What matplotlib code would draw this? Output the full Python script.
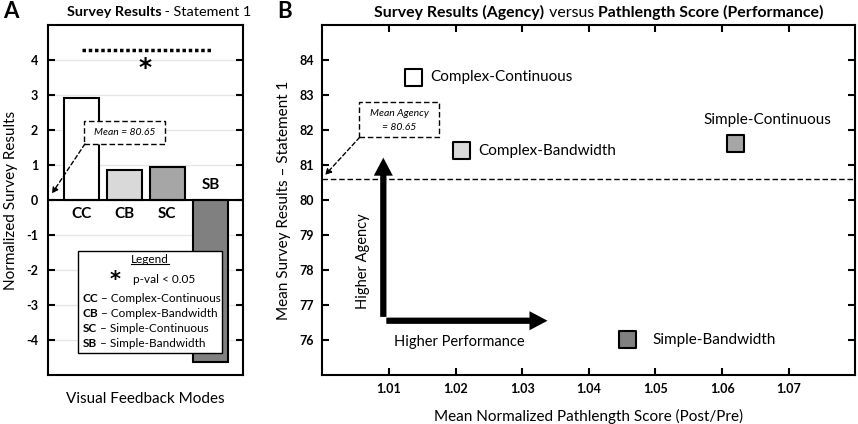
import matplotlib
matplotlib.use("Agg")
import matplotlib.pyplot as plt
from matplotlib.patches import Rectangle
from matplotlib.offsetbox import TextArea, HPacker, AnnotationBbox

plt.rcParams['font.family'] = ['Lato', 'DejaVu Sans']

# panel A data
modes = ['CC', 'CB', 'SC', 'SB']
mode_names = ['Complex-Continuous', 'Complex-Bandwidth', 'Simple-Continuous', 'Simple-Bandwidth']
norm_results = [2.9, 0.87, 0.94, -4.62]
mode_colors = ['#ffffff', '#d9d9d9', '#a6a6a6', '#808080']
a_yticks = [-4, -3, -2, -1, 0, 1, 2, 3, 4]

# panel B data
pathlength = [1.0137, 1.0209, 1.0620, 1.0458]
mean_agency = [83.51, 81.41, 81.62, 76.00]
agency_mean_line = 80.6
b_xticks = [1.01, 1.02, 1.03, 1.04, 1.05, 1.06, 1.07]
b_xticklabels = ['1.01', '1.02', '1.03', '1.04', '1.05', '1.06', '1.07']
b_yticks = [76, 77, 78, 79, 80, 81, 82, 83, 84]

LW = 1.5


def rich(ax, x, y, parts, size, align=(0.5, 0.5), coords='data', sep=0):
    boxes = [TextArea(t, textprops=dict(size=size, **p)) for t, p in parts]
    pack = HPacker(children=boxes, align='baseline', pad=0, sep=sep)
    ab = AnnotationBbox(pack, (x, y), xycoords=coords, box_alignment=align,
                        frameon=False, pad=0, zorder=6)
    ax.add_artist(ab)


fig = plt.figure(figsize=(8.58, 4.24), dpi=100)
axA = fig.add_axes([0.0559, 0.1156, 0.2273, 0.8255])
axB = fig.add_axes([0.3757, 0.1156, 0.6212, 0.8255])

# ---------------- panel A ----------------
x = list(range(len(modes)))
axA.bar(x, norm_results, width=0.82, color=mode_colors, edgecolor='black',
        linewidth=LW, zorder=3)
axA.set_xlim(-0.78, 3.76)
axA.set_ylim(-5, 5)
axA.set_yticks(a_yticks)
axA.set_yticklabels([str(v) for v in a_yticks], fontweight='bold', fontsize=9)
axA.set_xticks([])
for v in a_yticks:
    axA.axhline(v, color='#e6e6e6', lw=1, zorder=0)
axA.tick_params(axis='y', direction='in', length=5, width=LW, right=True, pad=7)
for s in axA.spines.values():
    s.set_linewidth(LW)
axA.axhline(0, color='black', lw=LW, zorder=4)

for i, m in enumerate(modes):
    if norm_results[i] >= 0:
        axA.text(i, -0.4, m, ha='center', va='center', fontsize=11, fontweight='bold', zorder=5)
    else:
        axA.text(i, 0.42, m, ha='center', va='center', fontsize=11, fontweight='bold', zorder=5)

# significance
axA.plot([0.01, 3.01], [4.29, 4.29], color='black', lw=2.5, ls=(0, (1, 0.8)), zorder=5)
axA.text(1.48, 3.78, '*', ha='center', va='center', fontsize=18, fontweight='bold',
         family='DejaVu Sans', zorder=5)

# mean box
axA.add_patch(Rectangle((0.057, 1.59), 1.88, 0.66, fc='white', ec='black', lw=1,
                        ls=(0, (4, 2)), zorder=5))
axA.text(1.0, 1.92, 'Mean = 80.65', ha='center', va='center', fontsize=7.5,
         style='italic', zorder=6)
axA.annotate('', xy=(-0.69, 0.18), xytext=(0.08, 1.6),
             arrowprops=dict(arrowstyle='-|>', color='black', lw=1, ls=(0, (3, 2)),
                             shrinkA=0, shrinkB=0, mutation_scale=9), zorder=6)

# legend box
axA.add_patch(Rectangle((-0.082, -4.38), 3.35, 2.914, fc='white', ec='black', lw=1, zorder=5))
axA.text(1.59, -1.71, 'Legend', ha='center', va='center', fontsize=8.5, zorder=6)
axA.plot([1.15, 2.03], [-1.84, -1.84], color='black', lw=0.8, zorder=6)
axA.text(0.78, -2.3, '*', ha='center', va='center', fontsize=15, fontweight='bold',
         family='DejaVu Sans', zorder=6)
axA.text(1.19, -2.27, 'p-val < 0.05', ha='left', va='center', fontsize=8.5, zorder=6)
for i, (m, nm) in enumerate(zip(modes, mode_names)):
    rich(axA, 0.027, -2.81 - 0.43 * i,
         [(m, dict(weight='bold')), (' \u2013 ' + nm, {})], 8.5, align=(0, 0.5))

axA.set_ylabel('Normalized Survey Results', fontsize=11, labelpad=6)
axA.set_xlabel('Visual Feedback Modes', fontsize=11, labelpad=12)

# ---------------- panel B ----------------
axB.scatter(pathlength, mean_agency, marker='s', s=150, c=mode_colors,
            edgecolors='black', linewidths=LW, zorder=4)
axB.set_xlim(1.0, 1.08)
axB.set_ylim(75, 85)
axB.set_xticks(b_xticks)
axB.set_xticklabels(b_xticklabels, fontweight='bold', fontsize=9)
axB.set_yticks(b_yticks)
axB.set_yticklabels([str(v) for v in b_yticks], fontweight='bold', fontsize=9)
axB.tick_params(direction='in', length=5, width=LW, top=True, right=True, pad=6)
for s in axB.spines.values():
    s.set_linewidth(LW)

label_offsets = [(12, 0), (12, 0), (-23, 17), (18, 0)]
for px, py, nm, (dx, dy) in zip(pathlength, mean_agency, mode_names, label_offsets):
    axB.annotate(nm, (px, py), xytext=(dx, dy), textcoords='offset points',
                 ha='left', va='center', fontsize=11)

axB.axhline(agency_mean_line, color='black', lw=1, ls=(0, (4, 2)), zorder=2)

axB.add_patch(Rectangle((1.00553, 81.79), 0.01196, 1.0, fc='white', ec='black', lw=1,
                        ls=(0, (4, 2)), zorder=5))
axB.text(1.0115, 82.46, 'Mean Agency', ha='center', va='center', fontsize=7.5,
         style='italic', zorder=6)
axB.text(1.0115, 82.06, '= 80.65', ha='center', va='center', fontsize=7.5,
         style='italic', zorder=6)
axB.annotate('', xy=(1.0004, 80.71), xytext=(1.0056, 81.79),
             arrowprops=dict(arrowstyle='-|>', color='black', lw=1, ls=(0, (3, 2)),
                             shrinkA=0, shrinkB=0, mutation_scale=9), zorder=6)

big = dict(arrowstyle='simple,head_width=1.37,head_length=1.3,tail_width=0.45',
           fc='black', ec='none', shrinkA=0, shrinkB=0, mutation_scale=10)
axB.annotate('', xy=(1.00915, 81.21), xytext=(1.00915, 76.66), arrowprops=big)
axB.annotate('', xy=(1.0338, 76.55), xytext=(1.0096, 76.55), arrowprops=big)
axB.text(1.00614, 78.26, 'Higher Agency', rotation=90, ha='center', va='center', fontsize=10.5)
axB.text(1.0206, 75.95, 'Higher Performance', ha='center', va='center', fontsize=10.5)

axB.set_ylabel('Mean Survey Results \u2013 Statement 1', fontsize=11, labelpad=6)
axB.set_xlabel('Mean Normalized Pathlength Score (Post/Pre)', fontsize=11, labelpad=10)

# titles
rich(fig, 159 / 858, 1 - 12 / 424,
     [('Survey Results', dict(weight='bold')), (' - Statement 1', {})], 10.4,
     coords='figure fraction')
rich(fig, 599 / 858, 1 - 12 / 424,
     [('Survey Results (Agency)', dict(weight='bold')), (' versus ', {}),
      ('Pathlength Score (Performance)', dict(weight='bold'))], 11.4,
     coords='figure fraction')
fig.text(3 / 858, 1 - 12 / 424, 'A', fontsize=16, fontweight='bold', ha='left', va='center')
fig.text(277 / 858, 1 - 12 / 424, 'B', fontsize=16, fontweight='bold', ha='left', va='center')

fig.savefig('out.png', dpi=100)
